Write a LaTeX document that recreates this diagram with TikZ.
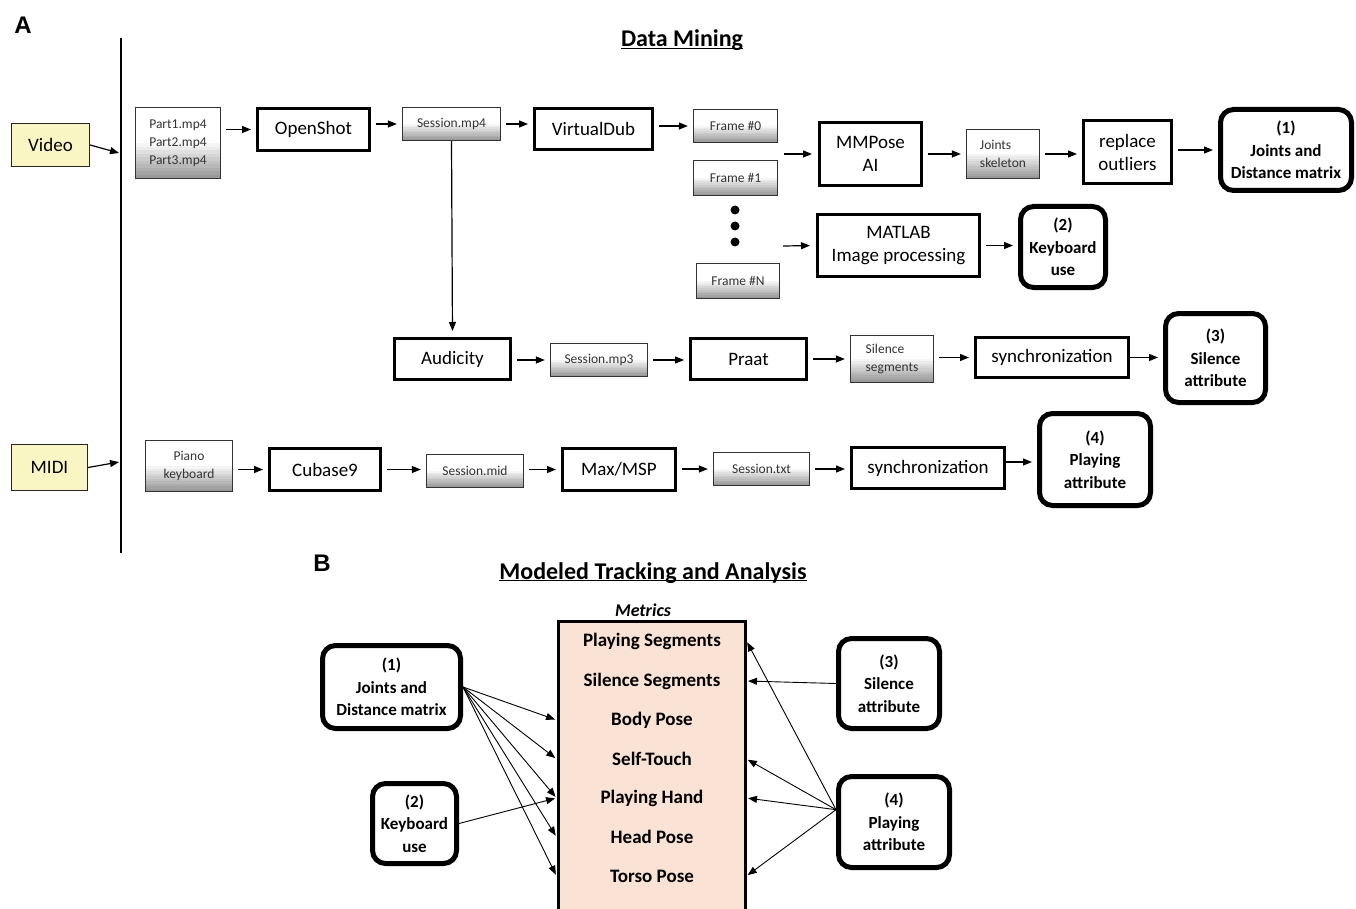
\documentclass[tikz,border=0pt]{standalone}
\usepackage{fontspec}
\setmainfont{Carlito}
\newfontfamily\arialfont{Liberation Sans}
\usetikzlibrary{arrows.meta,shadows,calc}
\definecolor{srcyellow}{RGB}{250,246,196}
\definecolor{metricfill}{RGB}{250,226,212}
\newcommand\boxfont{\fontsize{19}{23}\selectfont}
\newcommand\filefont{\fontsize{13.5}{18}\selectfont}
\newcommand\resfont{\fontsize{17}{22.5}\selectfont\bfseries}
\newcommand\titlefont{\fontsize{24}{28}\selectfont\bfseries}
\tikzset{
  prog/.style={draw, line width=3pt, inner sep=2pt, font=\boxfont, align=center},
  file/.style={draw=black!80, line width=1.3pt, fill=white, inner sep=2pt, font=\filefont,
    text=black!80, align=center,
    path picture={
      \foreach \k in {0,...,11}{
        \pgfmathtruncatemacro\grey{\k*4}
        \fill[black!\grey] ($(path picture bounding box.north west)!{0.45+\k*0.05}!(path picture bounding box.south west)$)
          rectangle (path picture bounding box.south east);
      }}},
  source/.style={draw=black!85, line width=1.3pt, fill=srcyellow, font=\boxfont},
  result/.style={draw, line width=5pt, rounded corners=13pt, fill=white, inner sep=2pt,
    font=\resfont, align=center,
    drop shadow={shadow xshift=2pt, shadow yshift=-2pt, opacity=0.3}},
  metric/.style={font=\fontsize{19}{23}\selectfont\bfseries},
  flow/.style={->, shorten <=5pt, shorten >=5pt},
  fan/.style={->, line width=0.9pt, shorten >=1.5pt},
}
\begin{document}
\begin{tikzpicture}[x=1pt, y=-1pt, line width=1.2pt, >={Triangle[length=9pt,width=7pt]}]
\useasboundingbox (0,0) rectangle (1356,909);

% part A
\node[font=\arialfont\bfseries\fontsize{24}{28}\selectfont] (labA) at (23,25) {A};
\node[font=\titlefont] (titleA) at (682,48) {\underline{\smash{Data Mining}}};

\draw[line width=2.5pt] (121,38) -- (121,553);
\coordinate (vin) at (119,153);
\coordinate (min) at (119,462);

\node[source, minimum width=78, minimum height=43] (video) at (50.5,145) {Video};
\node[source, minimum width=76, minimum height=46] (midi)  at (49.5,467.5) {MIDI};

\node[file, minimum width=85, minimum height=71] (parts) at (178,143) {Part1.mp4\\Part2.mp4\\Part3.mp4};
\node[prog, minimum width=112, minimum height=42] (openshot) at (313.5,129.5) {OpenShot};
\node[file, minimum width=98, minimum height=33] (smp4) at (451.5,124) {Session.mp4};
\node[prog, minimum width=118, minimum height=41] (vdub) at (593.5,129) {VirtualDub};
\node[file, minimum width=84, minimum height=33] (frame0) at (735.5,126) {Frame \#0};
\node[file, minimum width=84, minimum height=35] (frame1) at (735.5,178) {Frame \#1};
\node[file, minimum width=83, minimum height=35] (frameN) at (738,281) {Frame \#N};
\fill (735,210) circle (4.5pt);
\fill (735,226) circle (4.5pt);
\fill (735,242) circle (4.5pt);
\coordinate (f01) at (784,154);
\coordinate (f1N) at (783,246);

\node[prog, minimum width=102, minimum height=63] (mmpose) at (870.5,154) {MMPose\\AI};
\node[file, minimum width=73, minimum height=49, align=left] (joints) at (1003,154) {Joints\\skeleton};
\node[prog, minimum width=88, minimum height=63] (replace) at (1127.5,152) {replace\\outliers};
\node[result, minimum width=131, minimum height=81] (res1) at (1286,150) {(1)\\Joints and\\Distance matrix};
\node[prog, minimum width=162, minimum height=62] (matlab) at (898.5,245.5) {MATLAB\\Image processing};
\node[result, minimum width=85, minimum height=81] (res2) at (1063,247) {(2)\\Keyboard\\use};

\node[prog, minimum width=116, minimum height=41] (audacity) at (452.5,359) {Audicity};
\node[file, minimum width=97, minimum height=33] (smp3) at (599,360) {Session.mp3};
\node[prog, minimum width=116, minimum height=41] (praat) at (748.5,359) {Praat};
\node[file, minimum width=83, minimum height=47, align=left] (silseg) at (892,359) {Silence\\segments};
\node[prog, minimum width=153, minimum height=40] (sync1) at (1052,357.5) {synchronization};
\node[result, minimum width=100, minimum height=89] (res3) at (1215.5,358) {(3)\\Silence\\attribute};

\node[file, minimum width=87, minimum height=51] (piano) at (189,466) {Piano\\keyboard};
\node[prog, minimum width=111, minimum height=42] (cubase) at (325,469.5) {Cubase9};
\node[file, minimum width=97, minimum height=33] (smid) at (475,471) {Session.mid};
\node[prog, minimum width=113, minimum height=42] (maxmsp) at (619,469.5) {Max/MSP};
\node[file, minimum width=96, minimum height=33] (stxt) at (761.5,469) {Session.txt};
\node[prog, minimum width=153, minimum height=41] (sync2) at (928,468) {synchronization};
\node[result, minimum width=111, minimum height=92] (res4) at (1095,459.5) {(4)\\Playing\\attribute};

\draw[->] (video.east) -- (vin);
\draw[->] (midi.east) -- (min);
\draw[flow] (parts.east |- openshot) -- (openshot.west);
\draw[flow] (openshot.east |- smp4) -- (smp4.west);
\draw[flow] (smp4.east) -- (vdub.west |- smp4);
\draw[flow] (vdub.east |- frame0) -- (frame0.west);
\draw[->, shorten >=6pt] (f01) -- (mmpose.west);
\draw[->, shorten >=6pt] (f1N) -- (matlab.west);
\draw[flow] (mmpose.east |- joints) -- (joints.west);
\draw[flow] (joints.east) -- (replace.west |- joints);
\draw[flow] (replace.east |- res1) -- (res1.west);
\draw[flow] (matlab.east) -- (res2.west |- matlab);
\draw[->, shorten >=6pt] (smp4.south) -- (audacity.north);
\draw[flow] (audacity.east |- smp3) -- (smp3.west);
\draw[flow] (smp3.east) -- (praat.west |- smp3);
\draw[flow] (praat.east) -- (silseg.west |- praat);
\draw[flow] (silseg.east |- sync1) -- (sync1.west);
\draw[->, shorten >=5pt] (sync1.east) -- (res3.west |- sync1);
\draw[flow] (piano.east |- cubase) -- (cubase.west);
\draw[flow] (cubase.east) -- (smid.west |- cubase);
\draw[flow] (smid.east |- maxmsp) -- (maxmsp.west);
\draw[flow] (maxmsp.east |- stxt) -- (stxt.west);
\draw[flow] (stxt.east) -- (sync2.west |- stxt);
\draw[->, shorten >=5pt] ([yshift=6pt]sync2.east) -- ([yshift=6pt]res4.west |- sync2);

% part B
\node[font=\arialfont\bfseries\fontsize{24}{28}\selectfont] (labB) at (322,563) {B};
\node[font=\titlefont] (titleB) at (653,580) {\underline{\smash{Modeled Tracking and Analysis}}};
\node[font=\fontsize{18}{22}\selectfont\bfseries\itshape] (mtitle) at (643,610) {Metrics};

\node[draw, line width=3pt, fill=metricfill, minimum width=187, minimum height=292] (metrics) at (651.5,767) {};
\node[metric] (mplay)  at (652,641) {Playing Segments};
\node[metric] (msil)   at (652,681) {Silence Segments};
\node[metric] (mbody)  at (652,720) {Body Pose};
\node[metric] (mself)  at (652,759) {Self-Touch};
\node[metric] (mhand)  at (652,798) {Playing Hand};
\node[metric] (mhead)  at (652,837) {Head Pose};
\node[metric] (mtorso) at (652,876) {Torso Pose};

\node[result, minimum width=138, minimum height=83] (j1b) at (391.5,687) {(1)\\Joints and\\Distance matrix};
\node[result, minimum width=84, minimum height=80] (k2b) at (414.5,823.5) {(2)\\Keyboard\\use};
\node[result, minimum width=101, minimum height=90] (s3b) at (889,683.5) {(3)\\Silence\\attribute};
\node[result, minimum width=111, minimum height=91] (p4b) at (894,822) {(4)\\Playing\\attribute};

\draw[fan] (j1b.east) -- (metrics.west |- mbody);
\draw[fan] (j1b.east) -- (metrics.west |- mself);
\draw[fan] (j1b.east) -- (metrics.west |- mhand);
\draw[fan] (j1b.east) -- (metrics.west |- mhead);
\draw[fan] (j1b.east) -- (metrics.west |- mtorso);
\draw[fan] (k2b.east) -- (metrics.west |- mhand);

\draw[fan] (s3b.west) -- (metrics.east |- msil);
\draw[fan] (p4b.168) -- (metrics.east |- mplay);
\draw[fan] (p4b.168) -- (metrics.east |- mself);
\draw[fan] (p4b.168) -- (metrics.east |- mhand);
\draw[fan] (p4b.168) -- (metrics.east |- mtorso);
\end{tikzpicture}
\end{document}
